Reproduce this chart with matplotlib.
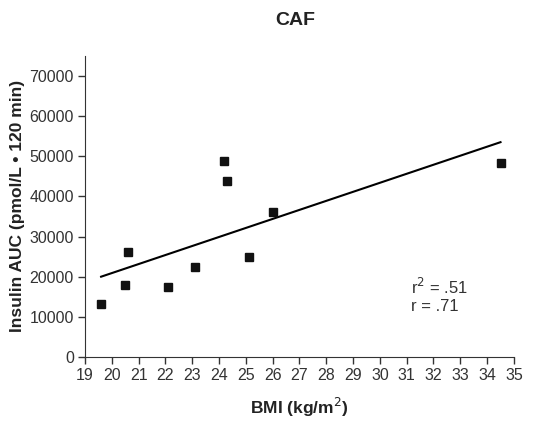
import matplotlib.pyplot as plt
import numpy as np

plt.rcParams['font.family'] = ['Liberation Sans', 'DejaVu Sans']

# BMI vs insulin AUC (CAF group)
bmi = [19.6, 20.5, 20.6, 22.1, 23.1, 24.2, 24.3, 25.1, 26.0, 34.5]
insulin_auc = [13300, 18000, 26200, 17500, 22400, 48900, 43900, 24900, 36000, 48300]

# regression line as drawn in the figure
fit_x = [19.6, 34.5]
fit_y = [20000, 53500]

x_ticks = list(range(19, 36))
y_ticks = list(range(0, 70001, 10000))


def main():
    fig = plt.figure(figsize=(5.52, 4.23), dpi=100)
    ax = fig.add_axes([0.154, 0.156, 0.777, 0.712])

    ax.plot(fit_x, fit_y, color='black', lw=1.5)
    ax.plot(bmi, insulin_auc, 's', color='#111111', markersize=5.5, ls='none')

    ax.set_xlim(19, 35)
    ax.set_ylim(0, 75000)
    ax.set_xticks(x_ticks)
    ax.set_yticks(y_ticks)
    ax.tick_params(direction='out', length=5, width=1, labelsize=11.5,
                   colors='#333333', labelcolor='#333333', pad=3)
    for side in ['top', 'right']:
        ax.spines[side].set_visible(False)
    for side in ['left', 'bottom']:
        ax.spines[side].set_color('#333333')

    ax.set_xlabel('BMI (kg/m$^2$)', fontsize=12.5, fontweight='bold', labelpad=9, color='#222222')
    ax.set_ylabel('Insulin AUC (pmol/L \u2022 120 min)', fontsize=12.5, fontweight='bold',
                  labelpad=3, color='#222222')
    fig.text(0.535, 0.942, 'CAF', fontsize=14, fontweight='bold', ha='center', color='#222222')

    ax.text(31.15, 15300, 'r$^2$ = .51\nr = .71', fontsize=12, color='#333333',
            linespacing=1.15, va='center')

    fig.savefig('out.png', dpi=100)


if __name__ == "__main__":
    main()
